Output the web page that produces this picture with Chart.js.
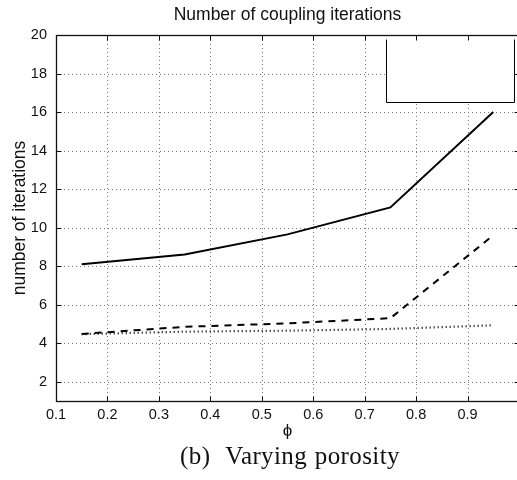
<!DOCTYPE html>
<html>
<head>
<meta charset="utf-8">
<script src="https://cdn.jsdelivr.net/npm/chart.js@4/dist/chart.umd.min.js"></script>
<style>
  html, body { margin: 0; padding: 0; background: #fff; overflow: hidden; }
  #wrap { position: relative; width: 524px; height: 480px; }
  #caption {
    position: absolute; left: 0; top: 443px; width: 580px;
    text-align: center; font: 25px "Liberation Serif", serif; line-height: 25px;
    letter-spacing: 0.4px; word-spacing: 1px; color: #111;
  }
</style>
</head>
<body>
<div id="wrap">
  <canvas id="chart" width="524" height="480" style="width:524px;height:480px"></canvas>
  <div id="caption">(b)&nbsp; Varying porosity</div>
</div>
<script>
// valeurs
const phi = [0.15, 0.35, 0.55, 0.75, 0.95];
const itersSolid = [8.1, 8.6, 9.65, 11.05, 16.0];
const itersDashed = [4.48, 4.85, 5.03, 5.3, 9.6];
const itersDotted = [4.47, 4.6, 4.65, 4.74, 4.93];

const xTicks = [0.1, 0.2, 0.3, 0.4, 0.5, 0.6, 0.7, 0.8, 0.9, 1.0];
const yTicks = [2, 4, 6, 8, 10, 12, 14, 16, 18, 20];

const FONT = 'Liberation Sans, Arial, sans-serif';

function pts(ys) {
    return phi.map((x, i) => ({ x: x, y: ys[i] }));
}

// grille pointillée, cadre, ticks internes et boîte de légende vide (style MATLAB)
const matlabAxes = {
    id: 'matlabAxes',
    beforeDatasetsDraw(chart) {
        const { ctx, chartArea: a, scales: { x, y } } = chart;
        ctx.save();
        ctx.strokeStyle = '#777';
        ctx.lineWidth = 1;
        ctx.setLineDash([1, 3]);
        xTicks.forEach(v => {
            const px = Math.round(x.getPixelForValue(v)) + 0.5;
            ctx.beginPath(); ctx.moveTo(px, a.bottom); ctx.lineTo(px, a.top); ctx.stroke();
        });
        yTicks.forEach(v => {
            const py = Math.round(y.getPixelForValue(v)) + 0.5;
            ctx.beginPath(); ctx.moveTo(a.left, py); ctx.lineTo(a.right, py); ctx.stroke();
        });
        ctx.restore();
    },
    afterDatasetsDraw(chart) {
        const { ctx, chartArea: a, scales: { x, y } } = chart;
        ctx.save();
        ctx.setLineDash([]);

        // boîte de légende (vide dans la figure d'origine)
        const bl = Math.round(a.right - 133) + 0.5, bt = Math.round(a.top + 4) + 0.5;
        const br = Math.round(a.right - 5) + 0.5, bb = Math.round(a.top + 67) + 0.5;
        ctx.fillStyle = '#fff';
        ctx.fillRect(bl, bt, br - bl, bb - bt);
        ctx.strokeStyle = '#000';
        ctx.lineWidth = 1;
        ctx.beginPath();
        ctx.moveTo(bl, bt); ctx.lineTo(bl, bb); ctx.lineTo(br, bb); ctx.lineTo(br, bt);
        ctx.stroke();

        // cadre
        const L = Math.round(a.left) + 0.5, R = Math.round(a.right) + 0.5;
        const T = Math.round(a.top) + 0.5, B = Math.round(a.bottom) + 0.5;
        ctx.strokeStyle = '#111';
        ctx.lineWidth = 1.3;
        ctx.strokeRect(L, T, R - L, B - T);

        // ticks internes
        ctx.lineWidth = 1;
        ctx.beginPath();
        xTicks.forEach(v => {
            const px = Math.round(x.getPixelForValue(v)) + 0.5;
            ctx.moveTo(px, B); ctx.lineTo(px, B - 5);
            ctx.moveTo(px, T); ctx.lineTo(px, T + 5);
        });
        yTicks.forEach(v => {
            const py = Math.round(y.getPixelForValue(v)) + 0.5;
            ctx.moveTo(L, py); ctx.lineTo(L + 5, py);
            ctx.moveTo(R, py); ctx.lineTo(R - 5, py);
        });
        ctx.stroke();
        ctx.restore();
    }
};

new Chart(document.getElementById('chart').getContext('2d'), {
    type: 'line',
    data: {
        datasets: [
            { data: pts(itersSolid), borderColor: '#000', borderWidth: 2, pointRadius: 0 },
            { data: pts(itersDashed), borderColor: '#000', borderWidth: 2, borderDash: [7, 6], pointRadius: 0 },
            { data: pts(itersDotted), borderColor: '#000', borderWidth: 2.2, borderDash: [1, 3], pointRadius: 0 }
        ]
    },
    options: {
        responsive: false,
        animation: false,
        layout: { padding: { left: 0, right: 4, top: 0, bottom: 0 } },
        plugins: {
            legend: { display: false },
            tooltip: { enabled: false },
            title: {
                display: true,
                text: 'Number of coupling iterations',
                fullSize: false,
                color: '#111',
                font: { family: FONT, size: 17.5, weight: 'normal' },
                padding: { top: 4.5, bottom: 9.5 }
            }
        },
        scales: {
            x: {
                type: 'linear',
                min: 0.1, max: 1.0,
                afterBuildTicks: s => { s.ticks = xTicks.map(v => ({ value: v })); },
                afterFit: s => { s.height = 79; },
                grid: { display: false, drawTicks: false },
                border: { display: false },
                ticks: {
                    color: '#111', padding: 5, maxRotation: 0, autoSkip: false,
                    font: { family: FONT, size: 14.5 },
                    callback: v => (v >= 1 ? '' : v.toFixed(1))
                },
                title: {
                    display: true, text: 'ϕ', color: '#111',
                    font: { family: FONT, size: 17 },
                    padding: { top: 0, bottom: 38 }
                }
            },
            y: {
                min: 1, max: 20,
                afterBuildTicks: s => { s.ticks = yTicks.map(v => ({ value: v })); },
                afterFit: s => { s.width = 56; },
                grid: { display: false, drawTicks: false },
                border: { display: false },
                ticks: {
                    color: '#111', padding: 9, autoSkip: false,
                    font: { family: FONT, size: 14.5 }
                },
                title: {
                    display: true, text: 'number of iterations', color: '#111',
                    font: { family: FONT, size: 17.5 },
                    padding: { top: 10, bottom: 0 }
                }
            }
        }
    },
    plugins: [matlabAxes]
});
</script>
</body>
</html>
